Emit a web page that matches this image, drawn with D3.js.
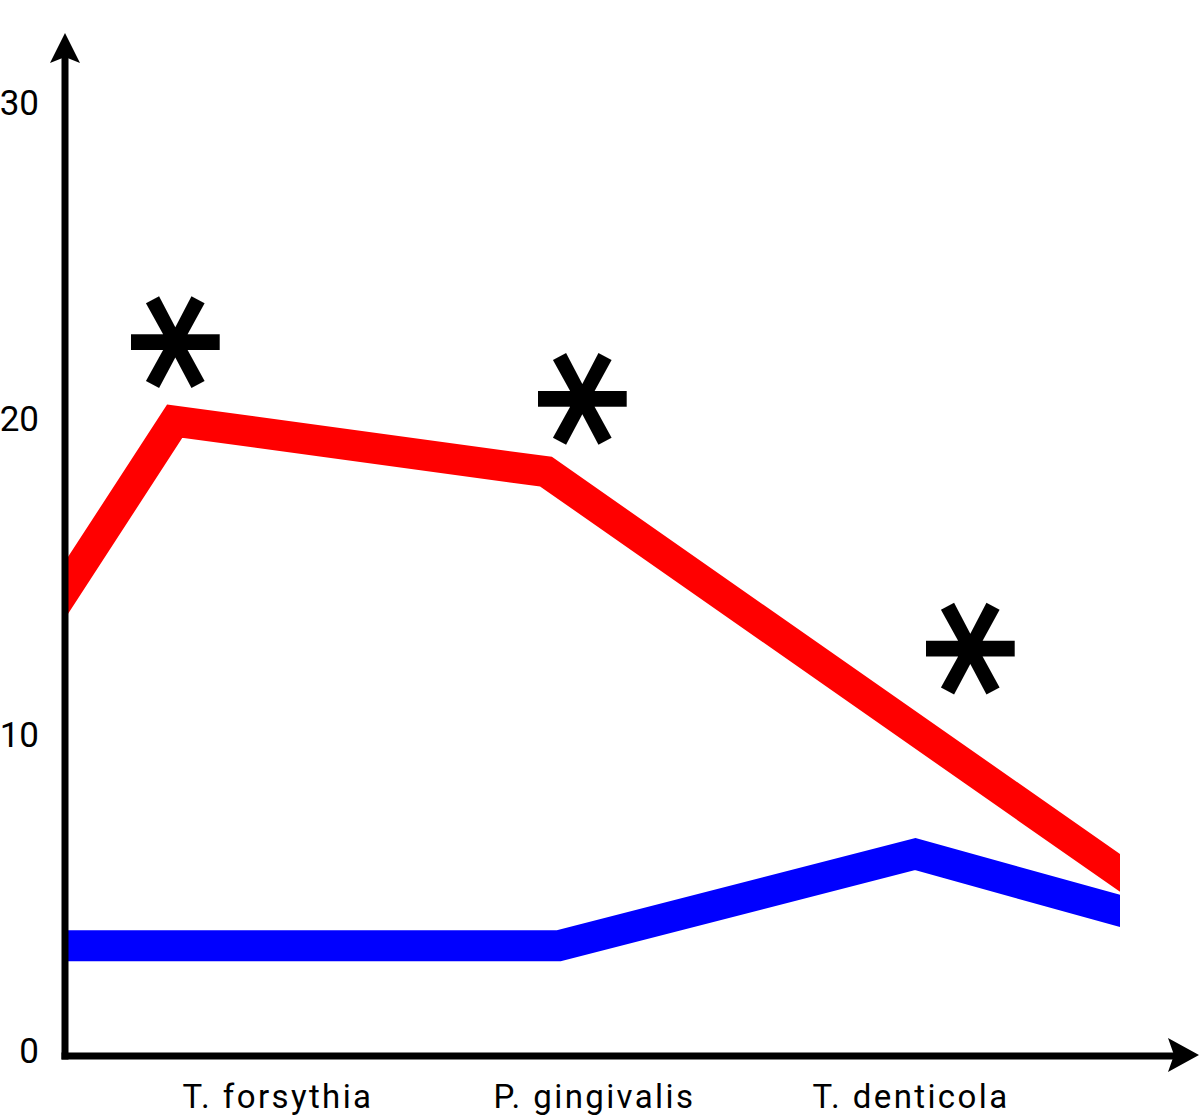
<!DOCTYPE html>
<html><head><meta charset="utf-8">
<script src="https://d3js.org/d3.v7.min.js"></script>
<style>html,body{margin:0;padding:0;background:#fff;}</style>
</head><body>
<script>
// data (x in percent of axis length, y in value units)
const categories = ["T. forsythia", "P. gingivalis", "T. denticola"];
const categoryPos = [20, 50, 80];
const yTicks = [0, 10, 20, 30];
const redX = [-4, 10.4, 45.6, 104];
const redY = [12.5, 19.9, 18.3, 4.67];
const blueX = [-4, 46.8, 80.6, 104];
const blueY = [3.3, 3.3, 6.2, 4.03];
const starX = [10.3, 48.9, 85.7];
const starY = [22.4, 20.6, 12.7];

const W = 1200, H = 1120;
const svg = d3.select("body").append("svg").attr("width", W).attr("height", H);

const x = d3.scaleLinear().domain([0, 100]).range([65, 1120]);
const y = d3.scaleLinear().domain([0, 30]).range([1050, 102]);

const defs = svg.append("defs");
defs.append("clipPath").attr("id", "plot").append("rect")
  .attr("x", x(0)).attr("y", 0).attr("width", x(100) - x(0)).attr("height", H);

const line = d3.line().x(d => x(d[0])).y(d => y(d[1]));
const g = svg.append("g").attr("clip-path", "url(#plot)");
g.append("path").datum(d3.zip(blueX, blueY)).attr("d", line)
  .attr("fill", "none").attr("stroke", "#0000ff").attr("stroke-width", 31).attr("stroke-linejoin", "miter");
g.append("path").datum(d3.zip(redX, redY)).attr("d", line)
  .attr("fill", "none").attr("stroke", "#ff0000").attr("stroke-width", 31).attr("stroke-linejoin", "miter");

// asterisks
svg.selectAll("g.star").data(d3.zip(starX, starY)).join("g").attr("class", "star")
  .attr("transform", d => `translate(${x(d[0])},${y(d[1])}) rotate(90)`)
  .append("text")
  .attr("x", 0).attr("y", 0)
  .attr("text-anchor", "middle").attr("dy", "0.505em")
  .attr("font-family", "DejaVu Sans").attr("font-weight", "bold").attr("font-size", 190).attr("fill", "#000")
  .text("*");

// axes
const axisY0 = 1056;
svg.append("line").attr("x1", 65).attr("x2", 65).attr("y1", axisY0 + 3.5).attr("y2", 55)
  .attr("stroke", "#000").attr("stroke-width", 7);
svg.append("line").attr("x1", 61.5).attr("x2", 1175).attr("y1", axisY0).attr("y2", axisY0)
  .attr("stroke", "#000").attr("stroke-width", 7);
svg.append("path").attr("d", "M65,33 L80,63 L65,57 L50,63 Z").attr("fill", "#000");
svg.append("path").attr("d", `M1199,${axisY0-1} L1168,${axisY0+16} L1174,${axisY0-1} L1168,${axisY0-18} Z`).attr("fill", "#000");

// y tick labels
svg.selectAll("text.ytick").data(yTicks).join("text").attr("class", "ytick")
  .attr("x", 39).attr("y", d => y(d)).attr("dy", "0.36em")
  .attr("text-anchor", "end").attr("font-family", "Roboto").attr("font-size", 35)
  .attr("fill", "#000").text(d => d);

// category labels
svg.selectAll("text.cat").data(categories).join("text").attr("class", "cat")
  .attr("x", (d, i) => x(categoryPos[i]) + 2).attr("y", 1108)
  .attr("text-anchor", "middle").attr("font-family", "Roboto").attr("font-size", 33)
  .attr("letter-spacing", 2.4)
  .attr("fill", "#000").text(d => d);
</script>
</body></html>
